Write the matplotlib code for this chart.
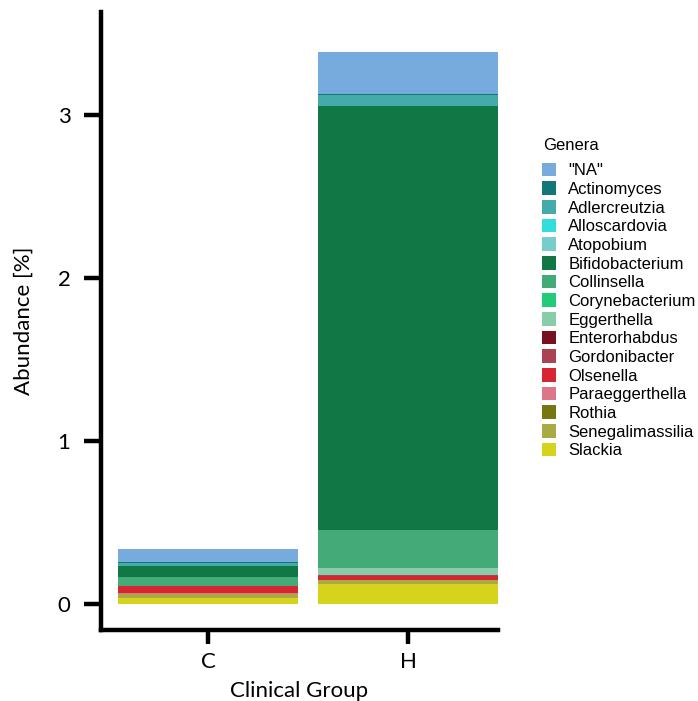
#!/usr/bin/env python3
"""
Stacked genus abundance per clinical group.
"""

import numpy as np
import matplotlib
matplotlib.use("Agg")
import matplotlib.pyplot as plt
from matplotlib.patches import Patch

# Data
groups = ["C", "H"]
genera = ['"NA"', "Actinomyces", "Adlercreutzia", "Alloscardovia", "Atopobium",
          "Bifidobacterium", "Collinsella", "Corynebacterium", "Eggerthella",
          "Enterorhabdus", "Gordonibacter", "Olsenella", "Paraeggerthella",
          "Rothia", "Senegalimassilia", "Slackia"]
abund_C = [0.074, 0.012, 0.018, 0.0, 0.0, 0.063, 0.055, 0.0, 0.004,
           0.0, 0.0, 0.043, 0.006, 0.0, 0.022, 0.037]
abund_H = [0.256, 0.010, 0.067, 0.0, 0.0, 2.597, 0.233, 0.0, 0.043,
           0.0, 0.006, 0.026, 0.0, 0.0, 0.029, 0.119]
colors = ["#77aadd", "#117777", "#44aaaa", "#33dddd", "#77cccc",
          "#117744", "#44aa77", "#22cc77", "#88ccaa",
          "#771122", "#aa4455", "#d62632", "#dd7788",
          "#777711", "#aaaa44", "#d6d31c"]

AXIS_FONT = "Lato"
LEG_FONT = "Liberation Sans"

fig = plt.figure(figsize=(6.98, 7.01), dpi=100)
ax = fig.add_axes([0.1447, 0.1013, 0.5688, 0.8816])

x = np.arange(len(groups))
data = np.array([abund_C, abund_H])  # shape (groups, genera)

# stack from the last genus (bottom) up to the first (top)
bottom = np.zeros(len(groups))
for i in range(len(genera) - 1, -1, -1):
    ax.bar(x, data[:, i], bottom=bottom, width=0.9, color=colors[i],
           linewidth=0)
    bottom += data[:, i]

ax.set_xlim(-0.535, 1.45)
ax.set_ylim(-0.16, 3.63)
ax.set_xticks(x)
ax.set_xticklabels(groups, fontsize=16, family=AXIS_FONT)
ax.set_yticks([0, 1, 2, 3])
ax.set_yticklabels(["0", "1", "2", "3"], fontsize=16, family=AXIS_FONT)
ax.set_xlabel("Clinical Group", fontsize=16, family=AXIS_FONT, labelpad=6)
ax.set_ylabel("Abundance [%]", fontsize=16, family=AXIS_FONT, labelpad=17)

for side in ["top", "right"]:
    ax.spines[side].set_visible(False)
for side in ["left", "bottom"]:
    ax.spines[side].set_linewidth(3.2)
ax.tick_params(axis="y", length=12, width=3.2, pad=10)
ax.tick_params(axis="x", length=10, width=3.2, pad=6)

# legend, title drawn separately to get the wider gap
fig.text(0.778, 1 - 145 / 701, "Genera", family=LEG_FONT, fontsize=12,
         ha="left", va="center")
handles = [Patch(facecolor=c, edgecolor="none") for c in colors]
leg = fig.legend(handles, genera, loc="upper left",
                 bbox_to_anchor=(0.777, 0.768), frameon=False,
                 prop={"family": LEG_FONT, "size": 12},
                 handlelength=0.8, handleheight=0.9, handletextpad=0.75,
                 labelspacing=0.18, borderaxespad=0, borderpad=0)

fig.savefig("out.png", dpi=100)
